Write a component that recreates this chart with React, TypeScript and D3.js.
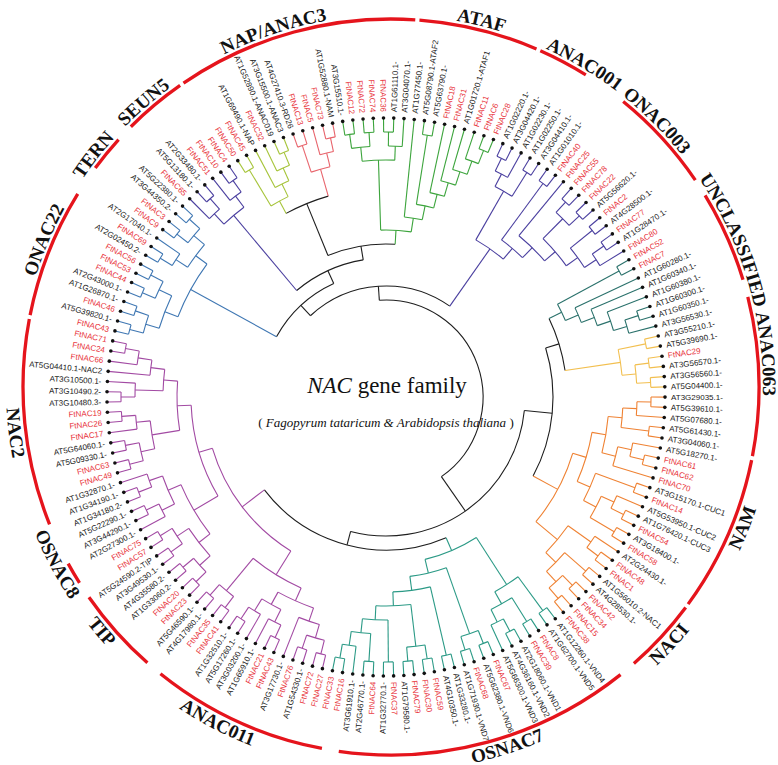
import React from 'react';
import * as d3 from 'd3';

// ---------------- DATA ----------------
// clade topologies (leaf order = clockwise order around the circle)
const blueClade = "((((FtNAC43,AT5G39820.1-),(FtNAC46,AT1G26870.1-)),((AT2G43000.1-,FtNAC44),(FtNAC53,FtNAC56))),(((AT2G02450.2-,FtNAC69),AT2G17040.1-),((FtNAC9,FtNAC3),(AT3G44350.2-,AT5G22380.1-))))";
const seun5Clade = "((FtNAC65,(AT5G13180.1-,AT2G33480.1-)),(FtNAC51,(FtNAC10,FtNAC4)))";
const oliveClade = "((FtNAC50,FtNAC45),(AT1G69490.1-NAP,(FtNAC32,(AT1G52890.1-ANAC019,AT3G15500.1-ANAC3))))";
const pinkClade = "((AT4G27410.3-RD26,FtNAC13),(FtNAC5,(FtNAC73,AT1G52880.1-NAM)))";
const greenClade = "((((AT3G15510.1-,FtNAC12),(FtNAC72,FtNAC74)),((FtNAC36,AT1G61110.1-),AT3G04070.1-)),(AT1G77450.1-,((AT5G08790.1-ATAF2,AT5G63790.1-),(FtNAC18,(FtNAC31,(AT1G01720.1-ATAF1,(FtNAC11,(FtNAC6,FtNAC28))))))))";
const anac001Clade = "((((AT1G02220.1-,AT3G04420.1-),AT1G02230.1-),(AT1G02250.1-,AT3G04410.1-)),((AT1G01010.1-,FtNAC40),(FtNAC25,(((FtNAC55,FtNAC78),(FtNAC22,AT5G56620.1-)),((FtNAC2,AT4G28500.1-),((FtNAC77,AT1G28470.1-),FtNAC80))))))";
const unclassClade = "((FtNAC52,FtNAC7),(AT1G60280.1-,(AT1G60340.1-,(AT1G60380.1-,((AT1G60300.1-,AT1G60350.1-),AT3G56530.1-)))))";
const yellowClade = "((AT3G55210.1-,AT5G39690.1-),((FtNAC29,AT3G56570.1-),(AT3G56560.1-,AT5G04400.1-)))";
const orangeClade = "((((((AT3G29035.1-,AT5G39610.1-),AT5G07680.1-),(AT5G61430.1-,AT3G04060.1-)),((AT5G18270.1-,(FtNAC61,FtNAC62)),FtNAC70)),((AT3G15170.1-CUC1,FtNAC14),((AT5G53950.1-CUC2,(AT1G76420.1-CUC3,FtNAC54)),(AT3G18400.1-,FtNAC58)))),((AT2G24430.1-,(FtNAC48,FtNAC1)),((AT1G56010.2-NAC1,AT4G28530.1-),((FtNAC42,FtNAC34),(FtNAC15,FtNAC38)))))";
const osnac7Clade = "(((AT1G12260.1-VND4,AT1G62700.1-VND5),((FtNAC8,FtNAC39),((AT2G18060.1-VND1,AT4G36160.1-VND2),AT5G66300.1-VND3))),(((FtNAC67,AT5G62380.1-VND6),(FtNAC68,AT1G71930.1-VND7)),((AT1G33280.1-,AT4G10350.1-),(((FtNAC59,FtNAC30),(FtNAC79,AT1G79580.1-)),((FtNAC37,AT1G32770.1-),((FtNAC64,AT2G46770.1-),(AT3G61910.1-,(FtNAC16,FtNAC33))))))))";
const purpleP1 = "((((FtNAC27,FtNAC72),(AT1G54330.1-,FtNAC76)),AT3G17730.1-),(((FtNAC43,FtNAC21),AT1G65910.1-),(AT3G03200.1-,(AT5G17260.1-,AT1G32510.1-))))";
const purpleP2 = "((FtNAC41,FtNAC35),(AT4G17980.1-,AT5G46590.1-))";
const purpleP3 = "(((FtNAC23,FtNAC20),(AT1G33060.2-,AT4G35580.2-)),((AT3G49530.1-,AT5G24590.2-TIP),(FtNAC57,FtNAC75)))";
const purpleP4 = "((AT2G27300.1-,(AT3G44290.1-,AT5G22290.1-)),((AT1G34180.2-,AT1G34190.1-),AT1G32870.1-))";
const purpleP5 = "(((FtNAC49,FtNAC63),(AT5G09330.1-,AT5G64060.1-)),(FtNAC17,(FtNAC26,FtNAC19)))";
const purpleP6 = "(((AT3G10480.3-,AT3G10490.2-),AT3G10500.1-),(AT5G04410.1-NAC2,(FtNAC66,(FtNAC24,FtNAC71))))";
const purpleClade = `((${purpleP1},${purpleP2}),((${purpleP3},${purpleP4}),(${purpleP5},${purpleP6})))`;

const cladeNewicks: Record<string, string> = {
  Blue: blueClade, SEUN5: seun5Clade, Olive: oliveClade, Pink: pinkClade, Green: greenClade,
  Ind001: anac001Clade, TealU: unclassClade, Yellow: yellowClade, Orange: orangeClade,
  TealOS: osnac7Clade, Purple: purpleClade,
};
const backbone = "(((Blue,(SEUN5,((Olive,Pink),Green))),Ind001),(((TealU,Yellow),Orange),(TealOS,Purple)))";

// subfamily groups (first leaf, last leaf)
const groupLabels = ['NAP/ANAC3', 'ATAF', 'ANAC001', 'ONAC003', 'UNCLASSIFIED', 'ANAC063', 'NAM', 'NACI', 'OSNAC7', 'ANAC011', 'TIP', 'OSNAC8', 'NAC2', 'ONAC22', 'TERN', 'SEUN5'];
const groupFrom = ['FtNAC50', 'AT1G77450.1-', 'AT1G02220.1-', 'FtNAC25', 'FtNAC80', 'AT3G56530.1-', 'AT5G18270.1-', 'FtNAC48', 'FtNAC38', 'FtNAC33', 'AT5G46590.1-', 'FtNAC75', 'AT1G34190.1-', 'FtNAC43', 'FtNAC3', 'AT5G13180.1-'];
const groupTo = ['AT3G04070.1-', 'FtNAC28', 'AT1G02250.1-', 'FtNAC77', 'AT1G60300.1-', 'AT3G04060.1-', 'AT2G24430.1-', 'FtNAC34', 'AT3G61910.1-', 'FtNAC35', 'AT5G24590.2-TIP', 'AT2G27300.1-', 'FtNAC71', 'FtNAC69', 'AT5G22380.1-', 'FtNAC4'];

// ---------------- STYLE ----------------
const W = 778, H = 765;
const CT = { x: 386, y: 397 };   // tree centre
const CA = { x: 391, y: 387 };   // group-arc centre
const R_LEAF = 279;
const DR = 14;
const R_ARC = 368;
const START = 283.7;
const PAD = 0.35;
const cladeColor: Record<string, string> = {
  Blue: '#3f77b3', SEUN5: '#4a3f9f', Olive: '#a6c43a', Pink: '#e8646c', Green: '#3ca43c',
  Ind001: '#4a3f9f', TealU: '#2a716b', Yellow: '#f2bf4f', Orange: '#ef8233', TealOS: '#2b9a86', Purple: '#a24aa3',
};
const labelNudge: Record<string, number> = {
  'NAP/ANAC3': -3, ANAC001: 3, ONAC003: -2.5, UNCLASSIFIED: 1, ANAC063: -3.4, NAM: -2, OSNAC7: -2.7,
  ANAC011: 2.5, TIP: 1.5, OSNAC8: 2.5, NAC2: -1.3, ONAC22: 1.5, TERN: -1.4, SEUN5: -1,
};
const RED = '#e8333b';

function parseNewick(src: string): any {
  const s = src.replace(/\s+/g, '');
  let i = 0;
  const node = (): any => {
    if (s[i] === '(') {
      i++;
      const children: any[] = [];
      for (;;) {
        children.push(node());
        const ch = s[i++];
        if (ch === ')' || ch === undefined) break;
      }
      return { children };
    }
    const st = i;
    while (i < s.length && s[i] !== ',' && s[i] !== '(' && s[i] !== ')') i++;
    return { name: s.slice(st, i) };
  };
  return node();
}

function buildTree() {
  const bb = parseNewick(backbone);
  const graft = (n: any): any => {
    if (n.children) return { children: n.children.map(graft) };
    const sub = parseNewick(cladeNewicks[n.name]);
    const mark = (m: any) => { m.clade = n.name; (m.children || []).forEach(mark); };
    mark(sub);
    return sub;
  };
  return graft(bb);
}

const rad = (deg: number) => (deg * Math.PI) / 180;
const polT = (a: number, r: number): [number, number] => [CT.x + r * Math.sin(rad(a)), CT.y - r * Math.cos(rad(a))];
const polA = (a: number, r: number): [number, number] => [CA.x + r * Math.sin(rad(a)), CA.y - r * Math.cos(rad(a))];

function toArcAngle(theta: number) {
  const dx = Math.sin(rad(theta)), dy = -Math.cos(rad(theta));
  const ox = CT.x - CA.x, oy = CT.y - CA.y;
  const b = ox * dx + oy * dy;
  const c = ox * ox + oy * oy - R_ARC * R_ARC;
  const t = -b + Math.sqrt(b * b - c);
  const px = CT.x + t * dx, py = CT.y + t * dy;
  return (Math.atan2(px - CA.x, -(py - CA.y)) * 180) / Math.PI;
}

function arcD(pol: (a: number, r: number) => [number, number], r: number, a1: number, a2: number, sweep: number) {
  const p1 = pol(a1, r), p2 = pol(a2, r);
  const large = Math.abs(a2 - a1) > 180 ? 1 : 0;
  return `M${p1[0].toFixed(2)},${p1[1].toFixed(2)}A${r},${r} 0 ${large} ${sweep} ${p2[0].toFixed(2)},${p2[1].toFixed(2)}`;
}

export default function App() {
  const root: any = d3.hierarchy(buildTree());
  const leaves: any[] = root.leaves();
  const n = leaves.length;
  const ang = d3.scaleLinear().domain([0, n]).range([START, START + 360]);
  const rScale = d3.scaleLinear().domain([0, 1]).range([R_LEAF, R_LEAF - DR]);
  leaves.forEach((l: any, i: number) => { l.a = ang(i); });
  root.eachAfter((d: any) => {
    if (d.children) d.a = (d.children[0].a + d.children[d.children.length - 1].a) / 2;
  });
  root.each((d: any) => { d.r = rScale(d.height); });

  const branches: React.ReactNode[] = [];
  root.descendants().forEach((d: any, k: number) => {
    const col = d.data.clade ? cladeColor[d.data.clade] : '#1e1e1e';
    if (d.parent) {
      const [x1, y1] = polT(d.a, d.parent.r);
      const [x2, y2] = polT(d.a, d.r);
      branches.push(<line key={'l' + k} x1={x1} y1={y1} x2={x2} y2={y2} stroke={col} strokeWidth={1.1} />);
    }
    if (d.children) {
      const a1 = d.children[0].a, a2 = d.children[d.children.length - 1].a;
      branches.push(<path key={'a' + k} d={arcD(polT, d.r, a1, a2, 1)} fill="none" stroke={col} strokeWidth={1.1} />);
    }
  });

  const leafEls = leaves.map((l: any, i: number) => {
    const [dx, dy] = polT(l.a, R_LEAF);
    const [tx, ty] = polT(l.a, R_LEAF + 6);
    const norm = ((l.a % 360) + 360) % 360;
    const right = norm < 180;
    const rot = right ? norm - 90 : norm + 90;
    const name: string = l.data.name;
    const isFt = name.startsWith('Ft');
    return (
      <g key={'leaf' + i}>
        <circle cx={dx} cy={dy} r={1.8} fill="#111" />
        <text
          transform={`translate(${tx.toFixed(2)},${ty.toFixed(2)}) rotate(${rot.toFixed(2)})`}
          textAnchor={right ? 'start' : 'end'}
          dy="0.35em"
          fontSize={8}
          fontFamily="Arial, 'Liberation Sans', sans-serif"
          fill={isFt ? RED : '#1a1a1a'}
        >{name}</text>
      </g>
    );
  });

  const groupEls = groupLabels.map((label, gi) => {
    const i1 = leaves.findIndex((l: any) => l.data.name === groupFrom[gi]);
    const i2 = leaves.findIndex((l: any) => l.data.name === groupTo[gi]);
    const p1 = toArcAngle(ang(i1 - PAD));
    let p2 = toArcAngle(ang(i2 + PAD));
    while (p2 < p1) p2 += 360;
    const c = (p1 + p2) / 2 + (labelNudge[label] || 0);
    const cn = ((c % 360) + 360) % 360;
    const flip = cn > 90 && cn < 270;
    const id = 'gl' + gi;
    const tp = flip ? arcD(polA, 385, c + 45, c - 45, 0) : arcD(polA, 372, c - 45, c + 45, 1);
    return (
      <g key={id}>
        <path d={arcD(polA, R_ARC, p1, p2, 1)} fill="none" stroke="#e5141c" strokeWidth={3.3} />
        <path id={id} d={tp} fill="none" stroke="none" />
        <text fontFamily="'Liberation Serif', 'Times New Roman', serif" fontWeight="bold" fontSize={19} fill="#111">
          <textPath href={'#' + id} startOffset="50%" textAnchor="middle">{label}</textPath>
        </text>
      </g>
    );
  });

  return (
    <svg width={W} height={H} viewBox={`0 0 ${W} ${H}`} style={{ position: 'absolute', left: 0, top: 0, background: '#fff' }}>
      <rect x={0} y={0} width={W} height={H} fill="#fff" />
      <g>{branches}</g>
      <g>{leafEls}</g>
      <g>{groupEls}</g>
      <text x={387} y={393} textAnchor="middle" fontFamily="'Liberation Serif', 'Times New Roman', serif" fontSize={23} fill="#111">
        <tspan fontStyle="italic">NAC</tspan> gene family
      </text>
      <text x={386} y={427} textAnchor="middle" fontFamily="'Liberation Serif', 'Times New Roman', serif" fontSize={13} fill="#111">
        ( <tspan fontStyle="italic">Fagopyrum tataricum &amp; Arabidopsis thaliana</tspan> )
      </text>
    </svg>
  );
}
